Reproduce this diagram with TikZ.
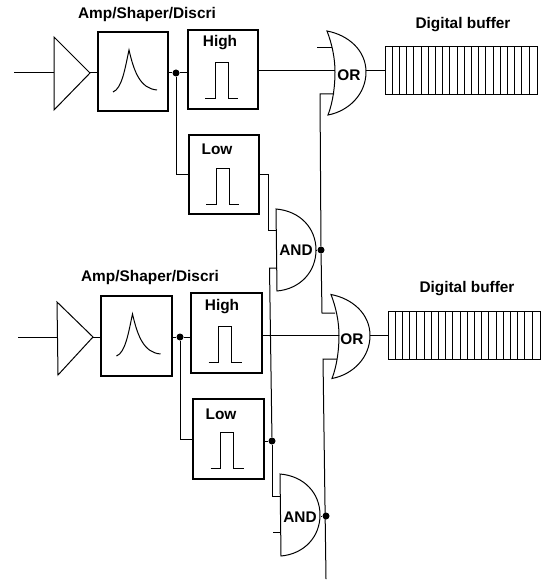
\documentclass[tikz,border=0pt]{standalone}
\usepackage{fontspec}
\setmainfont{Liberation Sans}
\tikzset{
  wire/.style={line width=1pt,line join=miter},
  blockbox/.style={draw,line width=1.1pt,inner sep=0pt,minimum width=#1},
  blockbox/.default=70pt,
  lbl/.style={inner sep=0pt,font=\fontsize{15.4pt}{17pt}\selectfont\bfseries},
  junction/.style={circle,fill=black,inner sep=0pt,minimum size=7pt},
  peak/.pic={\draw[wire] (-20,20.5) .. controls (-11,17) and (-8,-3) .. (-4,-21.5) .. controls (1,0) and (7,17) .. (24,18.5);},
  pulse/.pic={\draw[wire] (-18,29.5) -- (-8,29.5) -- (-8,-6.5) -- (5,-6.5) -- (5,29.5) -- (15,29.5);},
  andgate/.pic={\draw[wire] (0,-41) .. controls (24,-39) and (40,-22) .. (40,0) .. controls (40,22) and (24,39) .. (1,41) -- cycle;},
  orgate/.pic={\draw[wire] (-8,-41) .. controls (13,-37) and (31,-22) .. (31,0) .. controls (31,22) and (14,39) .. (-7,43) .. controls (-2,30) and (0,14) .. (0,0) .. controls (0,-14) and (-3,-28) .. (-8,-41) -- cycle;},
  cells/.pic={\draw[wire] (0,0) rectangle (152,48);
    \foreach \i in {1,...,20} \draw[wire] (7.2*\i,0) -- (7.2*\i,48);},
}
\begin{document}
\begin{tikzpicture}[x=1pt,y=-1pt]
\useasboundingbox (0,0) rectangle (540,580);
% ---- top channel
\node[lbl] (t1) at (147,15) {Amp/Shaper/Discri};
\coordinate (in1) at (14,73);
\coordinate (trA1) at (54,73);
\coordinate (trB1) at (90,73);
\draw[wire,line join=miter] (54,37) -- (90,73) -- (54,110) -- cycle;
\node[blockbox,minimum height=79pt,minimum width=70pt] (amp1) at (133,71.5) {};
\pic at (133,71.5) {peak};
\node[blockbox,minimum height=79pt,minimum width=70pt] (hi1) at (223,69.5) {};
\pic at (223,69.5) {pulse};
\node[lbl] (hl1) at (220,43) {High};
\node[blockbox,minimum height=79pt,minimum width=70pt] (lo1) at (224,174.5) {};
\pic at (224,174.5) {pulse};
\node[lbl] (ll1) at (217,149) {Low};
\node[junction] (d1) at (176,73) {};
\pic at (276,250) {andgate};
\node[lbl] (and1) at (296,250) {AND};
\pic at (335,72) {orgate};
\node[lbl] (or1) at (349,75) {OR};
\node[lbl] (db1) at (463,25) {Digital buffer};
\pic at (385,46.5) {cells};
\coordinate (buf1) at (385,71);
\node[junction] (d2) at (321,250) {};
% wires
\draw[wire] (in1) -- (trA1);
\draw[wire] (trB1) -- (amp1.west |- trB1);
\draw[wire] (amp1.east |- d1) -- (d1) -- (hi1.west |- d1);
\draw[wire] (d1) |- (lo1.west);
\coordinate (a1up) at (276,230);
\coordinate (a1lo) at (277,268);
\coordinate (oa1) at (335,71);
\draw[wire] (lo1.east) -- (268,174.5) |- (a1up);
\draw[wire] (hi1.east |- oa1) -- (oa1);
\draw[wire] (317,48) -- (332,48);
\coordinate (ob1) at (334,94);
\draw[wire] (ob1) -- (320,94) -- (d2);
\draw[wire] (316,250) -- (d2);
\draw[wire] (366,71) -- (buf1);
% ---- bottom channel
\node[lbl] (t2) at (150,278) {Amp/Shaper/Discri};
\coordinate (in2) at (18,337);
\coordinate (trA2) at (57,337);
\coordinate (trB2) at (93,337);
\draw[wire] (57,302) -- (93,337) -- (58,375) -- cycle;
\node[blockbox,minimum height=80pt,minimum width=71pt] (amp2) at (136.5,336) {};
\pic at (136.5,335.5) {peak};
\node[blockbox,minimum height=80pt,minimum width=71pt] (hi2) at (226.5,333) {};
\pic at (226.5,333) {pulse};
\node[lbl] (hl2) at (222,307) {High};
\node[blockbox,minimum height=80pt,minimum width=71pt] (lo2) at (228.5,439) {};
\pic at (228.5,439) {pulse};
\node[lbl] (ll2) at (221,414) {Low};
\node[junction] (d3) at (180,337) {};
\node[junction] (d4) at (272,441) {};
\pic at (280,515) {andgate};
\node[lbl] (and2) at (300,517) {AND};
\pic at (339,335.5) {orgate};
\node[lbl] (or2) at (352,339) {OR};
\node[lbl] (db2) at (467,289) {Digital buffer};
\pic at (388,311) {cells};
\coordinate (buf2) at (388,335);
\node[junction] (d5) at (326,516) {};
\draw[wire] (in2) -- (trA2);
\draw[wire] (trB2) -- (amp2.west |- trB2);
\draw[wire] (amp2.east |- d3) -- (d3) -- (hi2.west |- d3);
\draw[wire] (d3) |- (lo2.west);
\draw[wire] (lo2.east |- d4) -- (d4);
\draw[wire] (a1lo) -- (269.5,268) -- (d4);
\coordinate (a2up) at (280,496);
\draw[wire] (d4) -- (272,496) -- (a2up);
\draw[wire] (273,532) -- (280,532);
\coordinate (oa2) at (339,335);
\draw[wire] (hi2.east |- oa2) -- (oa2);
\coordinate (ob2up) at (335,313);
\draw[wire] (ob2up) -- (322,313) -- (d2);
\coordinate (ob2) at (337,359);
\draw[wire] (ob2) -- (323,359) -- (326,579);
\draw[wire] (321,516) -- (d5);
\draw[wire] (370,335) -- (buf2);
\end{tikzpicture}
\end{document}
